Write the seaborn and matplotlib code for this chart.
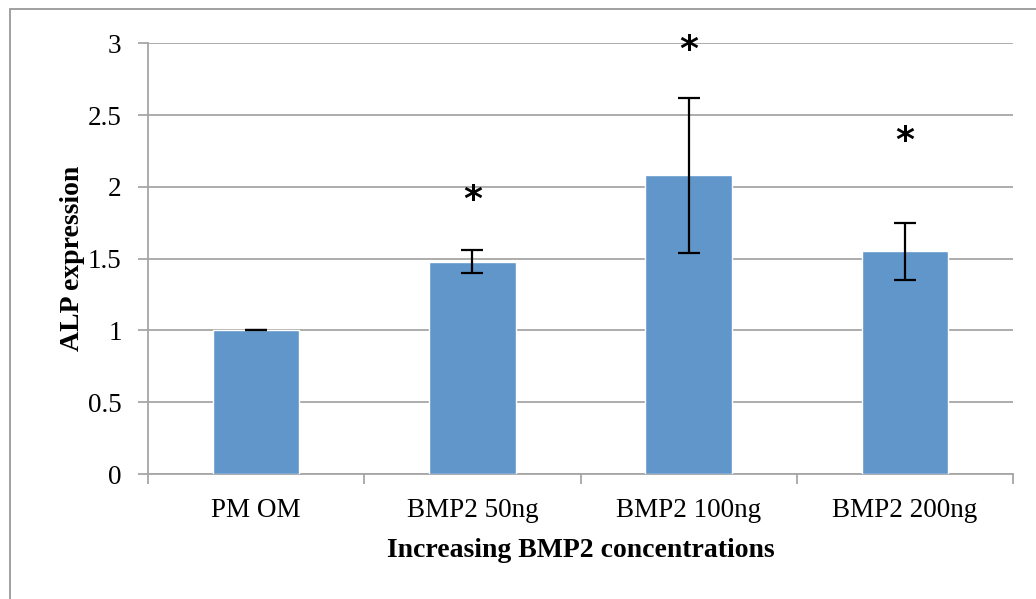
import matplotlib
matplotlib.use("Agg")
import matplotlib.pyplot as plt
import seaborn as sns
import pandas as pd
from matplotlib.patches import Rectangle

# values
groups = ["PM OM", "BMP2 50ng", "BMP2 100ng", "BMP2 200ng"]
alp_mean = [1.0, 1.48, 2.08, 1.55]
alp_err = [0.0, 0.08, 0.54, 0.20]
star_y = [None, 1.96, 3.0, 2.37]

BAR_COLOR = "#6096C9"
GRID_COLOR = "#A6A6A6"

sns.set_theme(style="white")
plt.rcParams["font.family"] = ["Liberation Serif", "DejaVu Serif"]
plt.rcParams["text.color"] = "black"
plt.rcParams["axes.labelcolor"] = "black"
plt.rcParams["xtick.color"] = "black"
plt.rcParams["ytick.color"] = "black"

df = pd.DataFrame({"group": groups, "alp": alp_mean})

fig = plt.figure(figsize=(10.36, 5.99), dpi=100)
ax = fig.add_axes([148 / 1036, 1 - 474 / 599, (1013 - 148) / 1036, (474 - 43.3) / 599])

sns.barplot(data=df, x="group", y="alp", color=BAR_COLOR, width=0.4,
            saturation=1, errorbar=None, ax=ax, zorder=3)
ax.errorbar(range(len(groups)), alp_mean, yerr=alp_err, fmt="none",
            ecolor="black", elinewidth=1.6, capsize=8, capthick=1.6, zorder=4)

# significance stars
for i, y in enumerate(star_y):
    if y is not None:
        ax.annotate("*", (i, y), xytext=(0, -5), textcoords="offset points",
                    ha="center", va="center", fontsize=26, fontweight="bold",
                    family="DejaVu Sans", annotation_clip=False, zorder=5)

ax.set_ylim(0, 3)
ax.set_xlim(-0.5, len(groups) - 0.5)
ax.set_yticks([0, 0.5, 1, 1.5, 2, 2.5, 3])
ax.set_yticklabels(["0", "0.5", "1", "1.5", "2", "2.5", "3"])
ax.yaxis.grid(True, color=GRID_COLOR, linewidth=1.3, zorder=0)
ax.set_axisbelow(True)

# ticks at category boundaries on x, labels in the middle
ax.set_xticks([-0.5, 0.5, 1.5, 2.5, 3.5], minor=False)
ax.set_xticklabels([])
ax.set_xticks(range(len(groups)), minor=True)
ax.set_xticklabels(groups, minor=True)
ax.tick_params(axis="x", which="major", length=7, width=1.3, color=GRID_COLOR,
               direction="out", bottom=True)
ax.tick_params(axis="x", which="minor", length=0, pad=17, labelsize=19.5)
ax.tick_params(axis="y", length=7, width=1.3, color=GRID_COLOR, direction="out",
               left=True, pad=12, labelsize=19.5)

for side in ["top", "right"]:
    ax.spines[side].set_visible(False)
for side in ["left", "bottom"]:
    ax.spines[side].set_color(GRID_COLOR)
    ax.spines[side].set_linewidth(1.3)

ax.set_xlabel("Increasing BMP2 concentrations", fontsize=20, fontweight="bold", labelpad=11)
ax.set_ylabel("ALP expression", fontsize=20, fontweight="bold", labelpad=2)

# chart area border (cut at right and bottom)
fig.patches.append(Rectangle((10 / 1036, -0.1), 1.2, 1.1 - 9 / 599,
                             transform=fig.transFigure, fill=False,
                             edgecolor="#999999", linewidth=1.3))

fig.savefig("out.png", dpi=100)
